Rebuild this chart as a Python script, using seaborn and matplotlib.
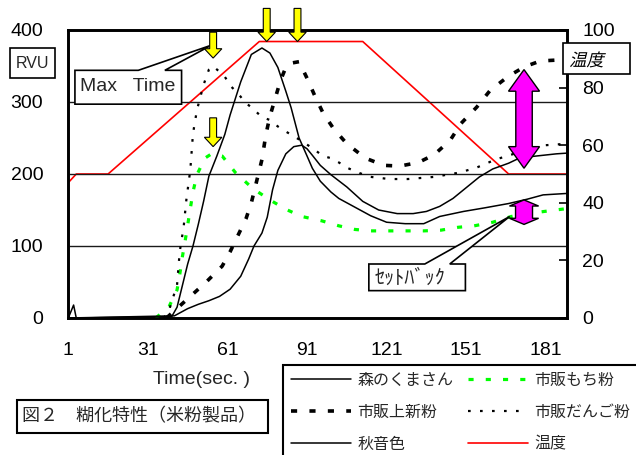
import numpy as np
import pandas as pd
import seaborn as sns
import matplotlib.pyplot as plt
from matplotlib.lines import Line2D
from matplotlib.patches import FancyArrow, Polygon, Rectangle, PathPatch
from matplotlib.textpath import TextPath
from matplotlib.font_manager import FontProperties
from matplotlib.transforms import Affine2D

# values: time (sec.), viscosity (RVU), temperature
mori_t = [1, 3, 4, 40, 42, 44, 46, 48, 50, 52, 54, 57, 60, 62, 66, 70, 74, 77, 80, 83,
          85, 88, 91, 93, 96, 100, 103, 107, 111, 115, 121, 128, 135, 141, 150, 158, 167, 174, 180, 189]
mori_v = [0, 18, 0, 2, 15, 45, 75, 100, 130, 162, 197, 225, 255, 282, 328, 366, 375, 368, 348, 315,
          292, 250, 225, 208, 190, 175, 166, 158, 150, 142, 133, 131, 131, 141, 148, 153, 159, 165, 171, 173]

aki_t = [1, 41, 44, 46, 50, 54, 58, 62, 66, 69, 71, 74, 76, 78, 80, 83, 86, 89, 91, 93,
         96, 100, 106, 112, 118, 125, 131, 136, 141, 146, 150, 156, 161, 167, 171, 175, 180, 185, 189]
aki_v = [0, 3, 9, 13, 19, 24, 30, 40, 58, 82, 100, 118, 140, 178, 205, 228, 238, 240, 235, 226,
         212, 199, 182, 162, 150, 145, 145, 148, 155, 166, 178, 196, 207, 215, 222, 224, 226, 228, 229]

joshin_t = [38, 41, 44, 47, 50, 53, 56, 59, 62, 65, 68, 70, 72, 74, 75.5, 77, 79, 81, 83, 85,
            88, 91, 94, 97, 101, 106, 113, 120, 126, 133, 139, 145, 149, 155, 160, 167, 173, 179, 189]
joshin_v = [0, 10, 20, 30, 40, 50, 61, 72, 92, 115, 138, 160, 190, 220, 255, 280, 305, 330, 348, 354,
            356, 333, 308, 285, 263, 242, 222, 212, 211, 216, 227, 247, 270, 293, 316, 336, 349, 357, 359]

dango_t = [37, 39, 42, 43, 44.5, 45.5, 47, 48, 49.5, 52, 54, 55.5, 58, 60, 62.5, 65, 67.5, 70.5, 74, 77,
           80, 83, 88, 93, 97, 100, 103, 106.5, 111, 115, 122, 129, 139, 148.5, 155, 162, 169, 175, 181, 189]
dango_v = [0, 11, 46, 92, 127, 164, 206, 256, 289, 324, 345, 350, 342, 335, 321, 312, 300, 291, 279, 275,
           266, 259, 248, 236, 225, 222, 216, 208, 201, 196, 193, 193, 196, 202, 209, 220, 228, 234, 240, 242]

mochi_t = [34, 39, 42, 43, 44, 45, 46, 47, 48, 49.5, 52.5, 55, 59, 64, 70.5, 77, 83, 89, 96.5, 103,
           109, 115, 122, 128.5, 135, 141.5, 148, 154, 161, 168, 174, 180.5, 189]
mochi_v = [0, 16, 39, 60, 85, 106, 129, 152, 175, 199, 222, 228, 225, 202, 180, 164, 151, 141, 135, 128,
           123, 121, 121, 121, 121, 122, 126, 128, 133, 141, 145, 148, 152]

temp_t = [1, 4, 16, 73, 112, 167, 189]
temp_v = [47, 50, 50, 96, 96, 50, 50]

x_ticks = [1, 31, 61, 91, 121, 151, 181]
rvu_ticks = [0, 100, 200, 300, 400]
temp_ticks = [0, 20, 40, 60, 80, 100]

names = ['森のくまさん', '市販もち粉', '市販上新粉', '市販だんご粉', '秋音色', '温度']

sns.set_style('white')
plt.rcParams['font.family'] = ['Liberation Sans', 'Noto Sans CJK JP']
jp = ['Noto Sans CJK JP', 'Liberation Sans']

W, H = 636, 455
fig = plt.figure(figsize=(W / 100, H / 100), dpi=100)


def fx(px):
    return px / W


def fy(py):
    return 1 - py / H


ax = fig.add_axes([fx(68.3), fy(318), fx(567) - fx(68.3), fy(30) - fy(318)])
ax2 = ax.twinx()
ax.set_zorder(ax2.get_zorder() + 1)
ax.patch.set_visible(False)

rvu = pd.concat([
    pd.DataFrame({'time': mori_t, 'rvu': mori_v, 'sample': names[0]}),
    pd.DataFrame({'time': mochi_t, 'rvu': mochi_v, 'sample': names[1]}),
    pd.DataFrame({'time': joshin_t, 'rvu': joshin_v, 'sample': names[2]}),
    pd.DataFrame({'time': dango_t, 'rvu': dango_v, 'sample': names[3]}),
    pd.DataFrame({'time': aki_t, 'rvu': aki_v, 'sample': names[4]}),
])

styles = {
    names[0]: dict(color='black', lw=1.1, linestyle='-'),
    names[1]: dict(color='#00ff00', lw=2.3, linestyle=(0, (1.6, 3.8)), dash_capstyle='butt'),
    names[2]: dict(color='black', lw=2.6, linestyle=(0, (1.7, 3.4)), dash_capstyle='butt'),
    names[3]: dict(color='black', lw=1.6, linestyle=(0, (1.2, 4.2)), dash_capstyle='butt'),
    names[4]: dict(color='black', lw=1.1, linestyle='-'),
}
for name in names[:5]:
    sns.lineplot(data=rvu[rvu['sample'] == name], x='time', y='rvu', ax=ax,
                 estimator=None, legend=False, **styles[name])

sns.lineplot(x=temp_t, y=temp_v, ax=ax2, color='red', lw=1.2, legend=False)

ax.set_xlim(1, 189)
ax.set_ylim(0, 400)
ax2.set_ylim(0, 100)
ax.set_xticks(x_ticks)
ax.set_yticks(rvu_ticks)
ax2.set_yticks(temp_ticks)
ax.set_xlabel('')
ax.set_ylabel('')
ax2.set_ylabel('')
ax.set_axisbelow(True)
ax.yaxis.grid(True, color='#1a1a1a', lw=1.0)
ax.xaxis.grid(False)
ax.tick_params(axis='x', direction='in', length=5, width=1.2, pad=17, labelsize=14, colors='black')
ax.tick_params(axis='y', length=0, pad=18, labelsize=14, colors='black')
ax2.tick_params(axis='y', direction='in', length=6, width=1.2, pad=11, labelsize=14, colors='black')
for a in (ax, ax2):
    for s in a.spines.values():
        s.set_visible(True)
        s.set_color('black')
        s.set_linewidth(1.9)

fig.text(fx(201.7), fy(380), 'Time(sec. )', ha='center', va='center', fontsize=14)

# yellow arrows pointing at the peaks (time, top RVU, tip RVU)
for xa, ytop, ytip in [(55.6, 397, 361), (55.6, 278, 238), (75.8, 430, 384), (87.4, 430, 384)]:
    ax.add_patch(FancyArrow(xa, ytop, 0, ytip - ytop, width=2.6, head_width=6.6, head_length=13,
                            length_includes_head=True, fc='#ffff00', ec='black', lw=0.8,
                            clip_on=False, zorder=7))


def double_arrow(xc, ybot, ytop, hw, sw, hl):
    verts = [(xc, ytop), (xc + hw, ytop - hl), (xc + sw, ytop - hl), (xc + sw, ybot + hl),
             (xc + hw, ybot + hl), (xc, ybot), (xc - hw, ybot + hl), (xc - sw, ybot + hl),
             (xc - sw, ytop - hl), (xc - hw, ytop - hl)]
    ax.add_patch(Polygon(verts, closed=True, fc='#ff00ff', ec='black', lw=1.0, zorder=7, clip_on=False))


double_arrow(172.8, 208, 345, 5.85, 3.1, 30)
double_arrow(172.8, 130, 164, 5.5, 3.2, 8.5)


def callout(x0, x1, y0, y1, wa, wb, tip):
    verts = [(x0, y0), (x1, y0), (x1, y1), (wb, y1), tip, (wa, y1), (x0, y1)]
    ax.add_patch(Polygon(verts, closed=True, fc='white', ec='black', lw=1.2, zorder=6, clip_on=False))


callout(3.5, 43.7, 297, 344, 27.4, 37.4, (55.0, 379))
ax.text(5.4, 321, 'Max   Time', fontsize=14, va='center', ha='left', zorder=8)
callout(114.3, 150.7, 38, 75, 135.4, 144.8, (167.4, 141))
ax.text(116.6, 55, 'ｾｯﾄﾊﾞｯｸ', fontsize=14.5, va='center', ha='left', family=jp, zorder=8)

# boxed labels around the axes
fig.add_artist(Rectangle((fx(10), fy(78.3)), fx(55) - fx(10), fy(48.3) - fy(78.3),
                         transform=fig.transFigure, fc='white', ec='black', lw=1.2))
fig.text(fx(32.5), fy(63.5), 'RVU', ha='center', va='center', fontsize=11.5)

fig.add_artist(Rectangle((fx(563.3), fy(74)), fx(630) - fx(563.3), fy(42.7) - fy(74),
                         transform=fig.transFigure, fc='white', ec='black', lw=1.2, zorder=5))
tp = TextPath((0, 0), '温度', prop=FontProperties(family='Noto Sans CJK JP', size=12.5))
skew = Affine2D().skew_deg(14, 0).scale(1 / 72).translate(569 / 100, (H - 66) / 100) + fig.dpi_scale_trans
fig.add_artist(PathPatch(tp, transform=skew, fc='black', lw=0, zorder=6))

fig.add_artist(Rectangle((fx(17.3), fy(432.7)), fx(268.3) - fx(17.3), fy(400) - fy(432.7),
                         transform=fig.transFigure, fc='white', ec='black', lw=1.5))
fig.text(fx(21.7), fy(416.5), '図２　糊化特性（米粉製品）', ha='left', va='center', fontsize=13, family=jp)

# legend, filled column by column
order = [0, 2, 4, 1, 3, 5]
handles = [Line2D([], [], **styles[n]) for n in names[:5]] + [Line2D([], [], color='red', lw=1.2)]
leg = fig.legend([handles[i] for i in order], [names[i] for i in order], ncol=2, loc='upper left',
                 bbox_to_anchor=(fx(283.3), fy(365)), frameon=True, fancybox=False, edgecolor='black',
                 framealpha=1, fontsize=11.5, handlelength=3.75, handletextpad=0.4, columnspacing=0.9,
                 labelspacing=1.05, borderpad=0.5, borderaxespad=0)
leg.get_frame().set_linewidth(1.5)

fig.savefig('out.png', dpi=100)
